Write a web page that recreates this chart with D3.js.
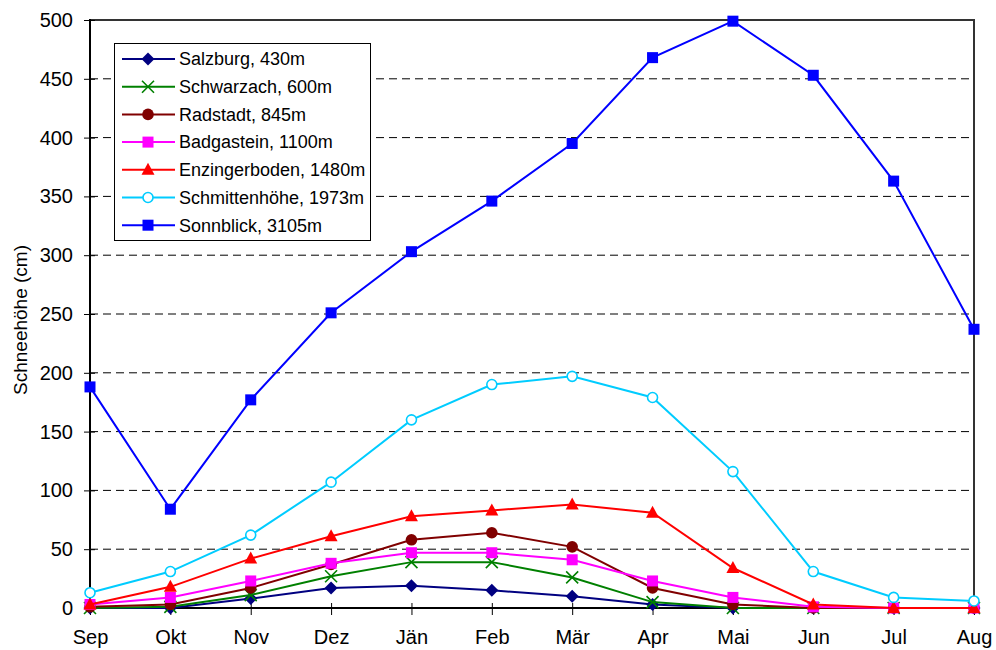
<!DOCTYPE html>
<html><head><meta charset="utf-8">
<script src="https://cdn.jsdelivr.net/npm/d3@7"></script>
<style>body{margin:0;background:#fff}svg{display:block;font-family:"Liberation Sans",Arial,sans-serif}</style>
</head><body><svg id="c" width="996" height="650"></svg>
<script>
const months = ["Sep","Okt","Nov","Dez","Jän","Feb","Mär","Apr","Mai","Jun","Jul","Aug"];
const yTicks = [0,50,100,150,200,250,300,350,400,450,500];
const salzburg      = [0,0,8,17,19,15,10,3,0,0,0,0];
const schwarzach    = [0,1,11,27,39,39,26,5,0,0,0,0];
const radstadt      = [1,3,17,37,58,64,52,17,3,0,0,0];
const badgastein    = [3,9,23,38,47,47,41,23,9,1,0,0];
const enzingerboden = [3,18,42,61,78,83,88,81,34,3,0,0];
const schmittenhoehe= [13,31,62,107,160,190,197,179,116,31,9,6];
const sonnblick     = [188,84,177,251,303,346,395,468,499,453,363,237];
const seriesNames = ["Salzburg, 430m","Schwarzach, 600m","Radstadt, 845m","Badgastein, 1100m","Enzingerboden, 1480m","Schmittenhöhe, 1973m","Sonnblick, 3105m"];
const seriesValues = [salzburg,schwarzach,radstadt,badgastein,enzingerboden,schmittenhoehe,sonnblick];
const seriesColors = ["#000080","#008000","#800000","#FF00FF","#FF0000","#00CCFF","#0000FF"];
const seriesMarkers = ["diamond","cross","circle","square","triangle","ocircle","square"];

const svg = d3.select("#c");
const L=90,R=974,T=20,B=608;
const x = d3.scalePoint().domain(months).range([L,R]);
const y = d3.scaleLinear().domain([0,500]).range([B,T]);

// gridlines
svg.append("g").selectAll("line").data(yTicks.filter(v=>v>0&&v<500)).join("line")
  .attr("x1",L).attr("x2",R).attr("y1",d=>y(d)).attr("y2",d=>y(d))
  .attr("stroke","#000").attr("stroke-width",1).attr("stroke-dasharray","8,5");

// border top/right
svg.append("path").attr("d",`M${L},${T}H${R}V${B}`).attr("fill","none").attr("stroke","#333").attr("stroke-width",2);

// y axis
const ya = svg.append("g").attr("transform",`translate(${L},0)`)
  .call(d3.axisLeft(y).tickValues(yTicks).tickSize(6).tickPadding(11));
ya.select(".domain").remove();
ya.selectAll(".tick line").attr("x2",5).attr("x1",-6).attr("stroke","#000");
ya.selectAll("text").attr("font-size",20).attr("fill","#000").attr("font-family","Liberation Sans, Arial, sans-serif").attr("dy","0.32em");
svg.append("line").attr("x1",L).attr("x2",L).attr("y1",T-1).attr("y2",B+1).attr("stroke","#000").attr("stroke-width",2);

// x axis
const xa = svg.append("g").attr("transform",`translate(0,${B})`)
  .call(d3.axisBottom(x).tickSize(6).tickPadding(16));
xa.select(".domain").remove();
xa.selectAll(".tick line").attr("y1",-5).attr("y2",7).attr("stroke","#000");
xa.selectAll("text").attr("font-size",20).attr("fill","#000").attr("font-family","Liberation Sans, Arial, sans-serif");
svg.append("line").attr("x1",L-1).attr("x2",R).attr("y1",B).attr("y2",B).attr("stroke","#000").attr("stroke-width",2);

// y title
svg.append("text").attr("transform",`translate(27,320) rotate(-90)`)
  .attr("text-anchor","middle").attr("font-size",19).text("Schneehöhe (cm)");

function marker(g, type, color, cx, cy){
  const s=5.5;
  if(type==="diamond") g.append("path").attr("d",`M${cx},${cy-6.5}L${cx+6.5},${cy}L${cx},${cy+6.5}L${cx-6.5},${cy}Z`).attr("fill",color);
  else if(type==="square") g.append("rect").attr("x",cx-s).attr("y",cy-s).attr("width",2*s).attr("height",2*s).attr("fill",color);
  else if(type==="circle") g.append("circle").attr("cx",cx).attr("cy",cy).attr("r",5.8).attr("fill",color);
  else if(type==="ocircle") g.append("circle").attr("cx",cx).attr("cy",cy).attr("r",5).attr("fill","#fff").attr("stroke",color).attr("stroke-width",1.6);
  else if(type==="triangle") g.append("path").attr("d",`M${cx},${cy-7}L${cx+6.5},${cy+5}L${cx-6.5},${cy+5}Z`).attr("fill",color);
  else if(type==="cross") g.append("path").attr("d",`M${cx-6},${cy-6}L${cx+6},${cy+6}M${cx-6},${cy+6}L${cx+6},${cy-6}`).attr("stroke",color).attr("stroke-width",1.6);
}

const line = d3.line().x((d,i)=>x(months[i])).y(d=>y(d));
seriesValues.forEach((vals,k)=>{
  const g = svg.append("g");
  g.append("path").datum(vals).attr("d",line).attr("fill","none").attr("stroke",seriesColors[k]).attr("stroke-width",2);
  vals.forEach((v,i)=>marker(g,seriesMarkers[k],seriesColors[k],x(months[i]),y(v)));
});

// legend
const lg = svg.append("g");
lg.append("rect").attr("x",114.5).attr("y",43.5).attr("width",256).attr("height",197).attr("fill","#fff").attr("stroke","#000").attr("stroke-width",1);
seriesNames.forEach((n,k)=>{
  const cy = 59 + k*27.7;
  lg.append("line").attr("x1",122).attr("x2",175).attr("y1",cy).attr("y2",cy).attr("stroke",seriesColors[k]).attr("stroke-width",2);
  marker(lg,seriesMarkers[k],seriesColors[k],148,cy);
  lg.append("text").attr("x",179).attr("y",cy).attr("dy","0.35em").attr("font-size",18).text(n);
});
</script></body></html>
